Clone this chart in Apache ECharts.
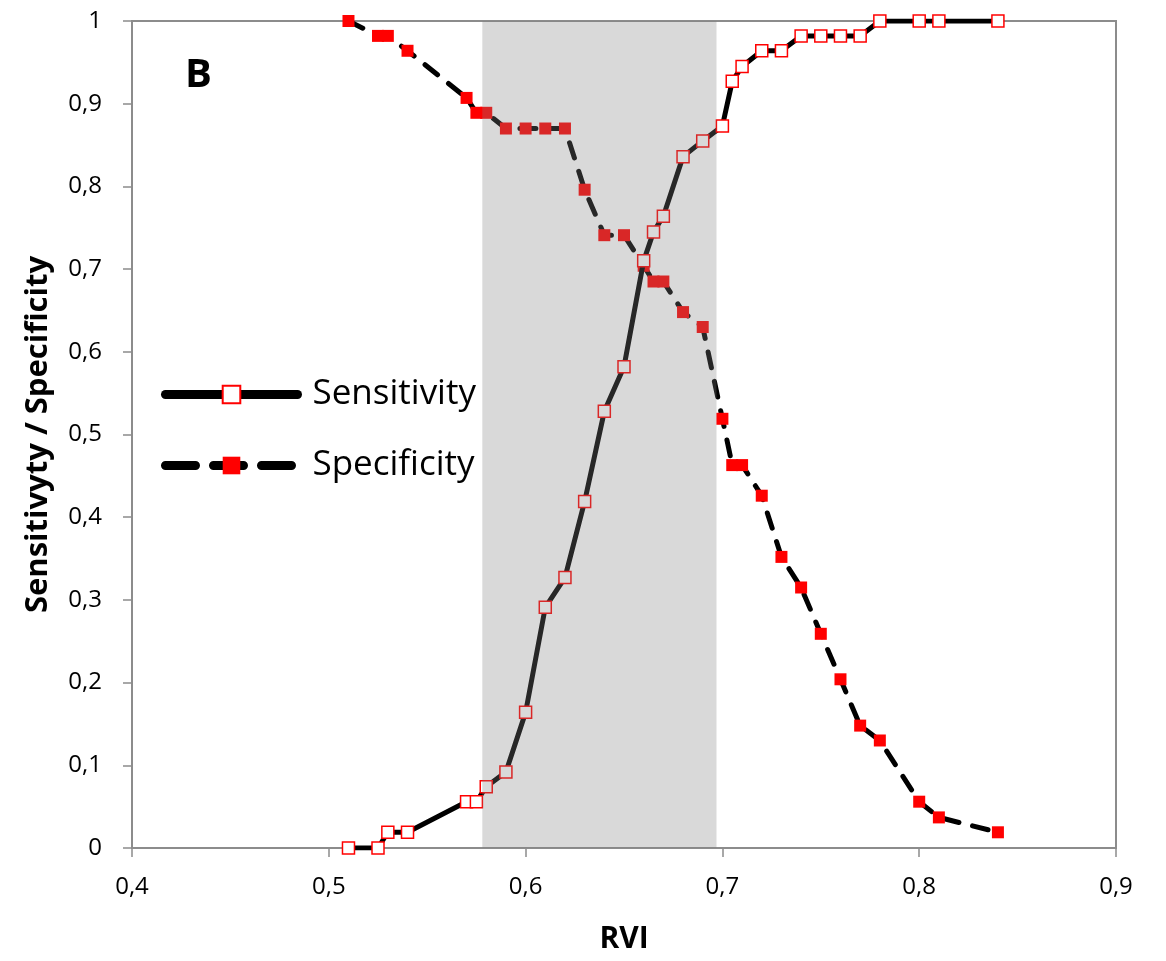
<!DOCTYPE html>
<html>
<head>
<meta charset="utf-8">
<script src="https://cdn.jsdelivr.net/npm/echarts@6/dist/echarts.min.js"></script>
<style>
html,body{margin:0;padding:0;background:#fff;}
#chart{width:1166px;height:961px;}
</style>
</head>
<body>
<div id="chart"></div>
<script>
// RVI thresholds
const rviSens = [0.51,0.525,0.53,0.54,0.57,0.575,0.58,0.59,0.60,0.61,0.62,0.63,0.64,0.65,0.66,0.665,0.67,0.68,0.69,0.70,0.705,0.71,0.72,0.73,0.74,0.75,0.76,0.77,0.78,0.80,0.81,0.84];
const sensitivity = [0,0,0.019,0.019,0.056,0.056,0.074,0.092,0.164,0.291,0.327,0.419,0.528,0.582,0.71,0.745,0.764,0.836,0.855,0.873,0.927,0.945,0.964,0.964,0.982,0.982,0.982,0.982,1,1,1,1];
const rviSpec = [0.51,0.525,0.53,0.54,0.57,0.575,0.58,0.59,0.60,0.61,0.62,0.63,0.64,0.65,0.66,0.665,0.67,0.68,0.69,0.70,0.705,0.71,0.72,0.73,0.74,0.75,0.76,0.77,0.78,0.80,0.81,0.84];
const specificity = [1,0.982,0.982,0.964,0.907,0.889,0.889,0.87,0.87,0.87,0.87,0.796,0.741,0.741,0.704,0.685,0.685,0.648,0.63,0.519,0.463,0.463,0.426,0.352,0.315,0.259,0.204,0.148,0.13,0.056,0.037,0.019];
const bandRange = [0.578, 0.697];
const xTitle = 'RVI';
const yTitle = 'Sensitivyty / Specificity';
const panelLabel = 'B';

const fmt = v => String(Math.round(v*10)/10).replace('.', ',');
const zip = (a,b) => a.map((x,i)=>[x,b[i]]);
const FONT = "'Open Sans', 'Noto Sans', sans-serif";

const chart = echarts.init(document.getElementById('chart'));
chart.setOption({
  animation: false,
  backgroundColor: '#fff',
  grid: {left: 132, right: 50, top: 21, bottom: 113, show: true, borderColor: '#8c8c8c', borderWidth: 2, backgroundColor: 'transparent'},
  xAxis: {
    type: 'value', min: 0.4, max: 0.9, interval: 0.1,
    name: xTitle, nameLocation: 'middle', nameGap: 76,
    nameTextStyle: {fontFamily: FONT, fontWeight: 'bold', fontSize: 30, color: '#000'},
    axisLine: {show: true, lineStyle: {color: '#8c8c8c', width: 2}},
    axisTick: {show: true, length: 9, lineStyle: {color: '#8c8c8c', width: 1.5}},
    axisLabel: {formatter: fmt, fontFamily: FONT, fontSize: 24, color: '#000', margin: 27},
    splitLine: {show: false}
  },
  yAxis: {
    type: 'value', min: 0, max: 1, interval: 0.1,
    name: yTitle, nameLocation: 'middle', nameGap: 78,
    nameTextStyle: {fontFamily: FONT, fontWeight: 'bold', fontSize: 31, color: '#000'},
    axisLine: {show: true, lineStyle: {color: '#8c8c8c', width: 2}},
    axisTick: {show: true, length: 9, lineStyle: {color: '#8c8c8c', width: 1.5}},
    axisLabel: {formatter: fmt, fontFamily: FONT, fontSize: 24, color: '#000', margin: 30},
    splitLine: {show: false}
  },
  legend: {
    orient: 'vertical', left: 156, top: 372, itemGap: 36,
    itemWidth: 132, itemHeight: 22,
    textStyle: {fontFamily: FONT, fontSize: 35, color: '#000', padding: [0,0,0,10]},
    data: [
      {name: 'Sensitivity', lineStyle: {width: 9}},
      {name: 'Specificity', lineStyle: {width: 9, type: [30, 18]}}
    ]
  },
  graphic: [{
    type: 'text', left: 185, top: 56,
    style: {text: panelLabel, fontFamily: FONT, fontWeight: 'bold', fontSize: 40, fill: '#000'}
  }],
  series: [
    {
      name: 'Specificity', type: 'line', data: zip(rviSpec, specificity), z: 2,
      symbol: 'rect', symbolSize: 12,
      lineStyle: {color: '#000', width: 5, type: [16, 14], cap: 'round'},
      itemStyle: {color: '#ff0000', borderWidth: 0}
    },
    {
      name: 'Sensitivity', type: 'line', data: zip(rviSens, sensitivity), z: 3,
      symbol: 'rect', symbolSize: 12,
      lineStyle: {color: '#000', width: 5, cap: 'round'},
      itemStyle: {color: '#fff', borderColor: '#ff0000', borderWidth: 1.5}
    },
    {
      name: 'band', type: 'line', data: [], z: 10, silent: true,
      markArea: {
        silent: true, z: 10,
        itemStyle: {color: 'rgba(128,128,128,0.3)'},
        data: [[{xAxis: bandRange[0], yAxis: 0}, {xAxis: bandRange[1], yAxis: 1}]]
      }
    }
  ]
});
</script>
</body>
</html>
